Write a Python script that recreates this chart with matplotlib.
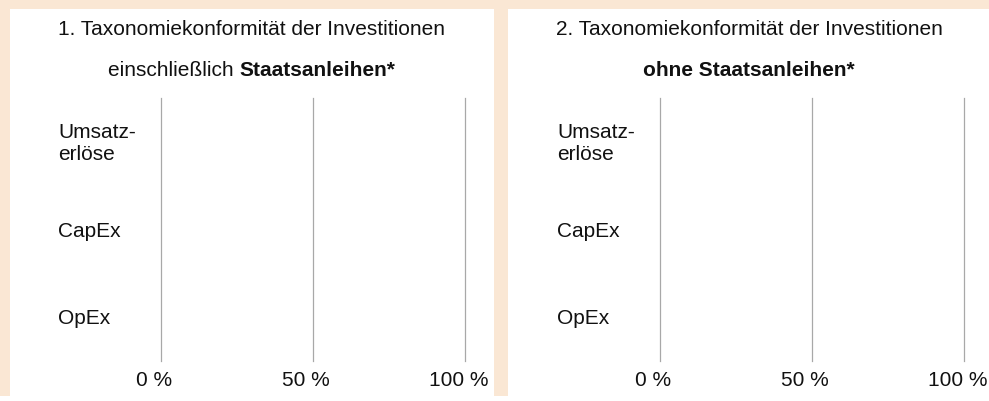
import matplotlib
matplotlib.use("Agg")
import matplotlib.pyplot as plt
from matplotlib.patches import Rectangle
from matplotlib.transforms import ScaledTranslation

plt.rcParams['font.family'] = ['Liberation Sans', 'DejaVu Sans']

# ---- data ----
categories = ["Umsatz-\nerlöse", "CapEx", "OpEx"]
values_incl_sovereign = [0, 0, 0]   # % taxonomy-aligned, incl. sovereign bonds
values_excl_sovereign = [0, 0, 0]   # % taxonomy-aligned, excl. sovereign bonds
x_ticks = [0, 50, 100]
x_tick_labels = ["0 %", "50 %", "100 %"]
title1_line1 = "1. Taxonomiekonformität der Investitionen"
title1_line2 = ("einschließlich ", "Staatsanleihen*")
title2_line1 = "2. Taxonomiekonformität der Investitionen"
title2_line2 = ("", "ohne Staatsanleihen*")

W, H = 989, 401
DPI = 100
fig = plt.figure(figsize=(W / DPI, H / DPI), dpi=DPI, facecolor="white")

peach = "#FAE7D4"
def px_rect(x0, y0, x1, y1, color):
    fig.patches.append(Rectangle((x0 / W, 1 - y1 / H), (x1 - x0) / W, (y1 - y0) / H,
                                 transform=fig.transFigure, facecolor=color,
                                 edgecolor="none", zorder=0))
px_rect(0, 0, W, 9, peach)
px_rect(0, 0, 10, 396, peach)
px_rect(494, 0, 508, 396, peach)

FS = 15
TXT = "#111111"
grid_color = "#a8a8a8"

def make_panel(x_left_px, values, center_px, line1, line2):
    ax_w = 304
    ax = fig.add_axes([x_left_px / W, (H - 361) / H, ax_w / W, (361 - 98) / H])
    ax.set_facecolor("none")
    ypos = list(range(len(categories)))
    ax.barh(ypos, values, height=0.5, color="#5b8c3a")
    ax.set_xlim(0, 100)
    ax.set_ylim(len(categories) - 0.5, -0.5)
    ax.set_xticks(x_ticks)
    ax.set_xticklabels(x_tick_labels, fontsize=FS, color=TXT)
    ax.set_yticks(ypos)
    ax.set_yticklabels(categories, fontsize=FS, color=TXT, linespacing=1.2)
    ax.tick_params(axis="y", length=0, pad=103 * 72 / DPI)
    ax.tick_params(axis="x", length=0, pad=7)
    for lab in ax.get_yticklabels():
        lab.set_horizontalalignment("left")
        lab.set_verticalalignment("center")
        lab.set_transform(lab.get_transform() + ScaledTranslation(0, -1.5 / DPI, fig.dpi_scale_trans))
    shift = ScaledTranslation(-7 / DPI, 0, fig.dpi_scale_trans)
    for lab in ax.get_xticklabels():
        lab.set_transform(lab.get_transform() + shift)
    for s in ax.spines.values():
        s.set_visible(False)
    ax.grid(axis="x", color=grid_color, linewidth=0.9)
    for gl in ax.get_xgridlines():
        gl.set_clip_on(False)
    ax.set_axisbelow(True)

    # titles
    fig.text(center_px / W, 1 - 35 / H, line1, ha="center", va="baseline",
             fontsize=FS, color=TXT)
    normal, bold = line2
    r = fig.canvas.get_renderer()
    t_n = fig.text(0, 0, normal, fontsize=FS)
    t_b = fig.text(0, 0, bold, fontsize=FS, fontweight="bold")
    wn = t_n.get_window_extent(r).width if normal else 0
    wb = t_b.get_window_extent(r).width
    t_n.remove(); t_b.remove()
    start = center_px - (wn + wb) / 2
    if normal:
        fig.text(start / W, 1 - 76 / H, normal, ha="left", va="baseline",
                 fontsize=FS, color=TXT)
    fig.text((start + wn) / W, 1 - 76 / H, bold, ha="left", va="baseline",
             fontsize=FS, fontweight="bold", color=TXT)
    return ax

make_panel(161.3, values_incl_sovereign, 252, title1_line1, title1_line2)
make_panel(660.3, values_excl_sovereign, 749, title2_line1, title2_line2)

fig.savefig("out.png", dpi=DPI, facecolor="white")
